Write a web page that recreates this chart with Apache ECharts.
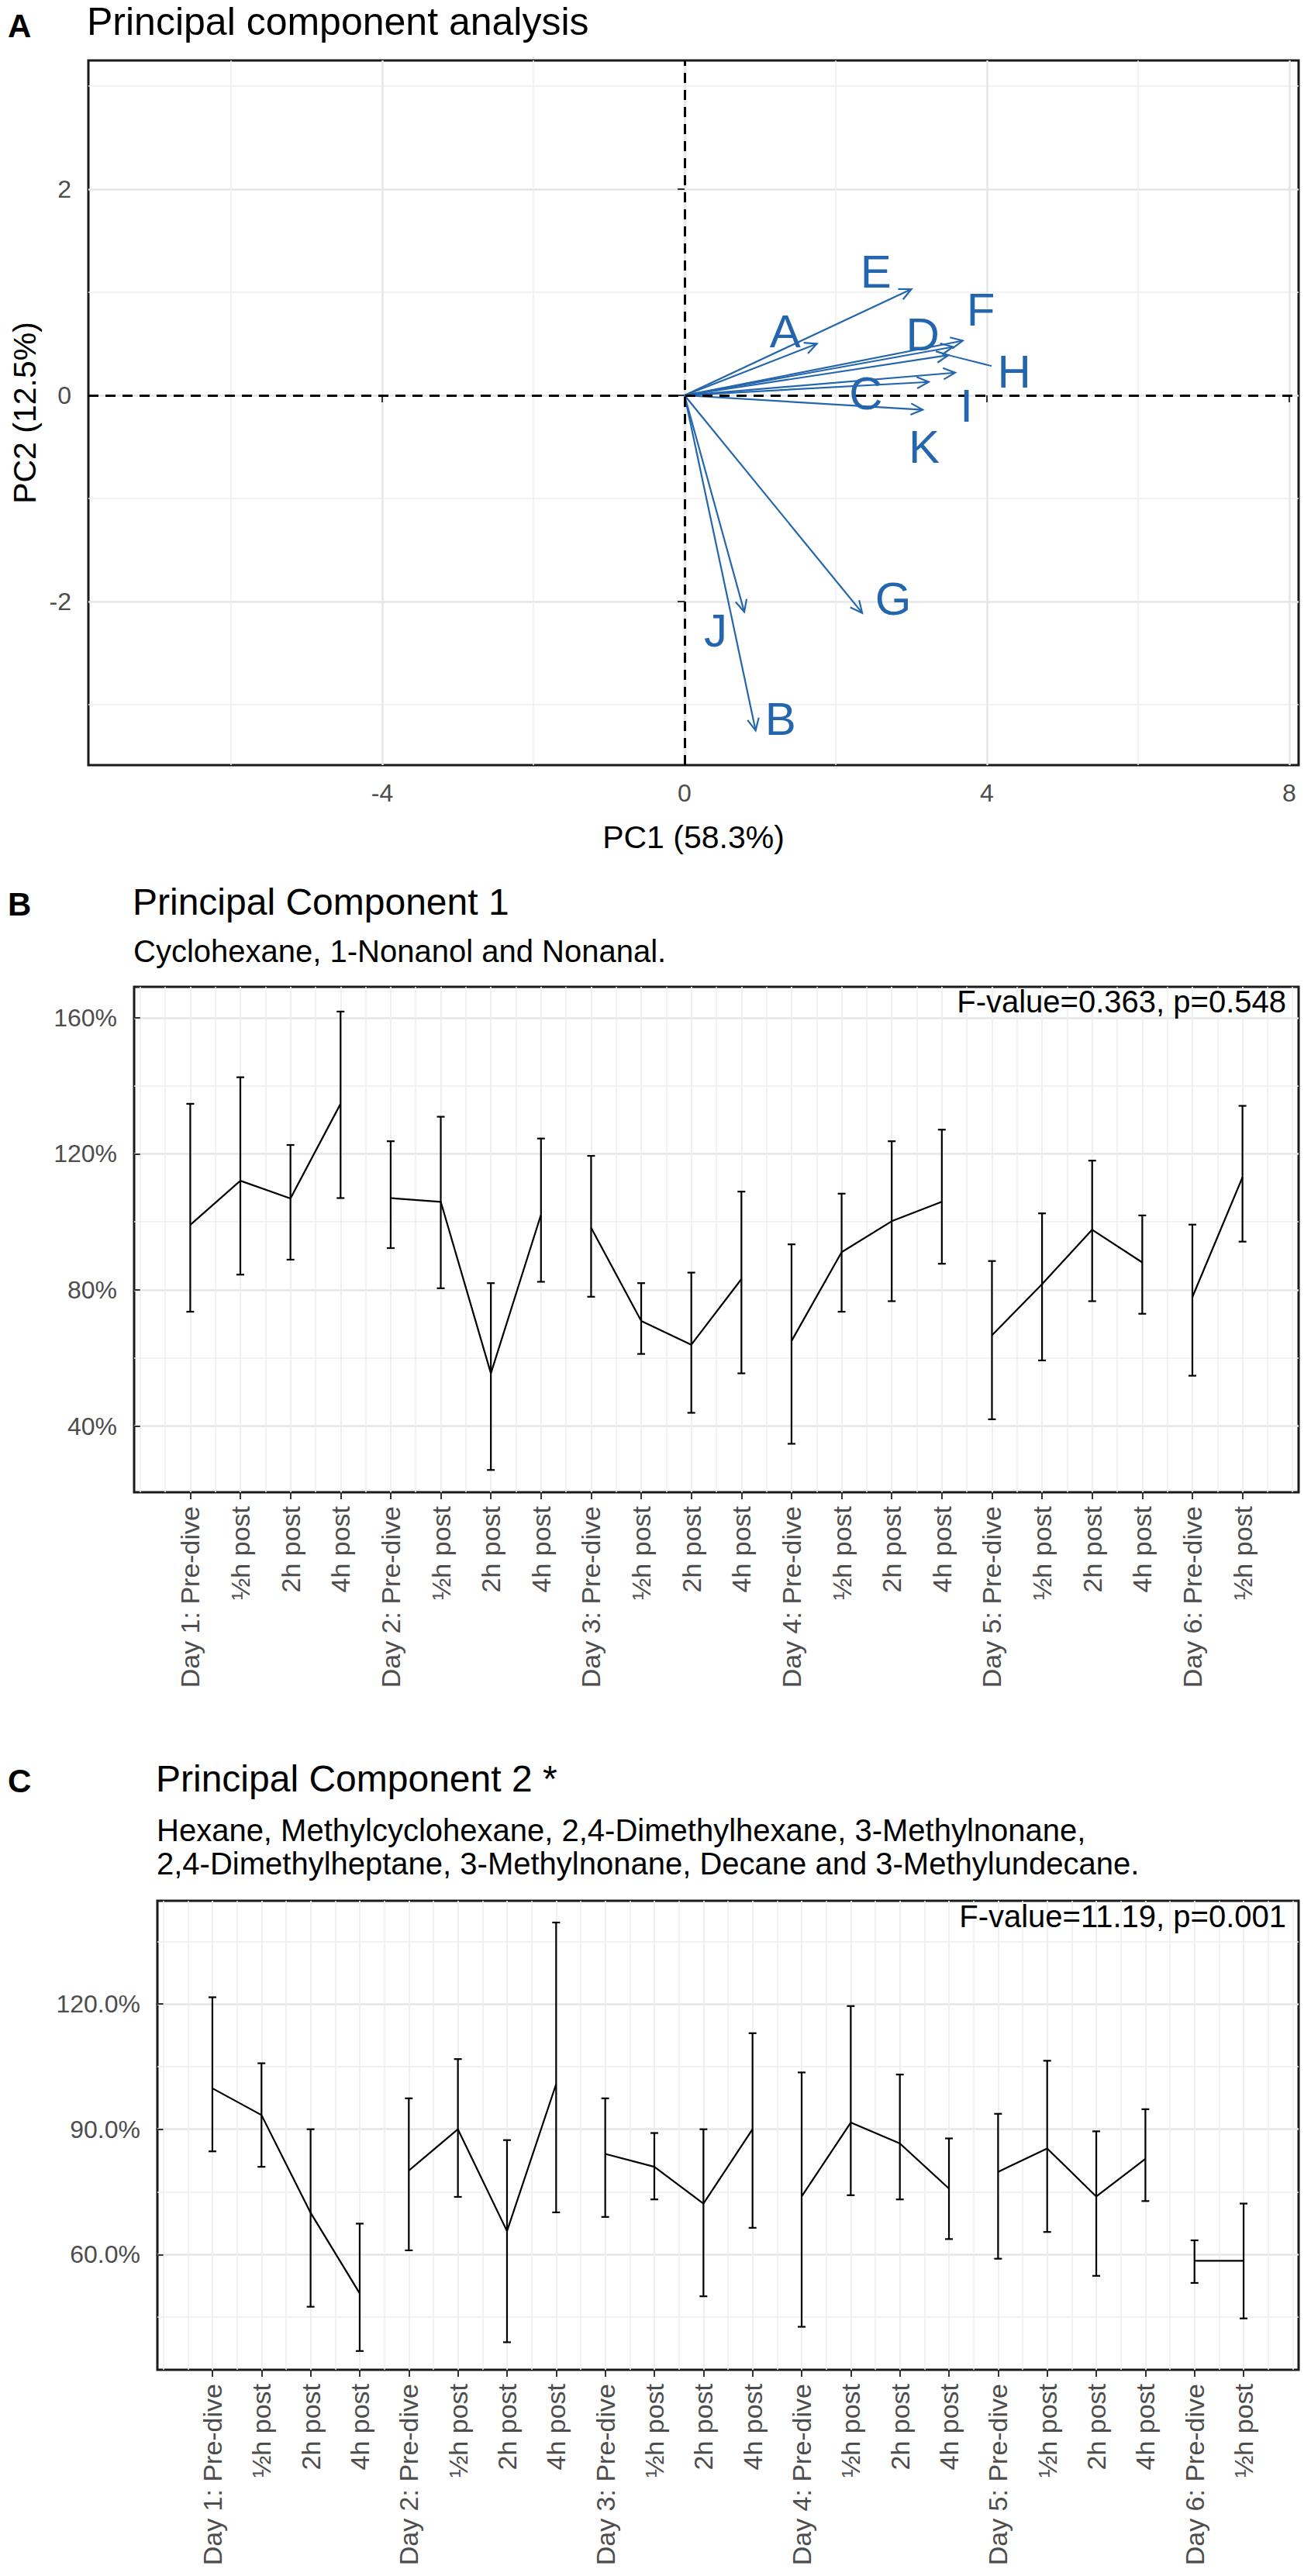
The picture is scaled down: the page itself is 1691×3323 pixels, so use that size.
<!DOCTYPE html>
<html><head><meta charset="utf-8">
<script src="https://cdn.jsdelivr.net/npm/echarts@6/dist/echarts.min.js"></script>
<style>html,body{margin:0;padding:0;background:#fff}#c{width:1691px;height:3323px}</style>
</head><body><div id="c"></div><script>
// ---------- Panel A: PCA loadings ----------
const varNames = ['A','B','C','D','E','F','G','H','I','J','K'];
const loadPC1  = [1.75, 0.94, 3.23, 3.55, 3.00, 3.68, 2.35, 3.49, 3.58, 0.79, 3.15];
const loadPC2  = [0.50, -3.25, 0.13, 0.47, 1.03, 0.53, -2.11, 0.39, 0.22, -2.10, -0.14];
const labelPC1 = [1.33, 1.27, 2.40, 3.15, 2.53, 3.92, 2.76, 4.36, 3.73, 0.41, 3.17];
const labelPC2 = [0.62, -3.14, 0.02, 0.59, 1.20, 0.83, -1.97, 0.23, -0.10, -2.28, -0.50];
const labelLinked = [0,0,0,0,0,0,0,1,0,0,0];
const pcaXTicks = [-4, 0, 4, 8];
const pcaYTicks = [-2, 0, 2];

// ---------- Panels B, C: time points ----------
const timePoints = ['Day 1: Pre-dive','½h post','2h post','4h post',
  'Day 2: Pre-dive','½h post','2h post','4h post',
  'Day 3: Pre-dive','½h post','2h post','4h post',
  'Day 4: Pre-dive','½h post','2h post','4h post',
  'Day 5: Pre-dive','½h post','2h post','4h post',
  'Day 6: Pre-dive','½h post'];
const dayOf = [1,1,1,1,2,2,2,2,3,3,3,3,4,4,4,4,5,5,5,5,6,6];

const pc1Mean  = [99.1,112.1,106.9,134.7,107.0,105.9,55.5,102.1,98.3,70.9,63.9,83.2,65.0,91.1,100.2,105.9,66.7,81.7,97.7,88.1,77.9,113.1];
const pc1Upper = [134.7,142.5,122.6,161.8,123.7,130.9,82.0,124.5,119.4,82.0,85.1,108.9,93.4,108.3,123.7,127.1,88.5,102.5,118.0,101.9,99.2,134.1];
const pc1Lower = [73.6,84.5,88.9,107.0,92.3,80.5,27.1,82.4,78.0,61.2,43.9,55.5,34.8,73.6,76.7,87.7,42.0,59.3,76.7,73.0,54.8,94.2];
const pc1YTicks = [40, 80, 120, 160];

const pc2Mean  = [99.8,93.4,70.0,50.7,80.1,90.0,65.6,100.8,84.1,81.0,72.2,90.0,73.9,91.6,86.6,75.8,79.8,85.4,73.9,82.9,58.5,58.5];
const pc2Upper = [121.6,105.8,90.0,67.4,97.4,106.8,87.4,139.5,97.4,89.1,90.0,113.0,103.6,119.5,103.1,87.8,93.7,106.4,89.5,94.8,63.4,72.2];
const pc2Lower = [84.7,81.0,47.5,36.9,61.0,73.8,39.0,70.1,69.0,73.2,50.0,66.4,42.7,74.2,73.2,63.7,59.0,65.4,54.9,72.8,53.2,44.7];
const pc2YTicks = [60, 90, 120];

// ---------- styling ----------
const FONT = 'Liberation Sans, Arial, sans-serif';
const BLUE = '#2466ad';
const GRID_MAJOR = '#e6e6e6';
const GRID_MINOR = '#eeeeee';
const TICK_COL = '#333333';
const LABEL_COL = '#4d4d4d';

const xPositions = timePoints.map((_, i) => i + 1);
const halfPositions = [0]; for (let i = 0; i < 23; i++) halfPositions.push(i + 0.5); halfPositions.push(23);

function majorAxis(gridIndex, min, max, ticks, fmt, extra) {
  return Object.assign({
    gridIndex, type: 'value', min, max,
    axisLine: {show: false},
    axisTick: {show: true, customValues: ticks, length: 9, lineStyle: {color: TICK_COL, width: 2}},
    axisLabel: {show: true, customValues: ticks, formatter: fmt, color: LABEL_COL, fontSize: 32, fontFamily: FONT},
    splitLine: {show: true, customValues: ticks, lineStyle: {color: GRID_MAJOR, width: 2.5}}
  }, extra || {});
}
function minorAxis(gridIndex, min, max, ticks) {
  return {
    gridIndex, type: 'value', min, max,
    axisLine: {show: false},
    axisTick: {show: false, customValues: ticks},
    axisLabel: {show: false, customValues: ticks},
    splitLine: {show: true, customValues: ticks, lineStyle: {color: GRID_MINOR, width: 1.5}}
  };
}

const A_X = [-7.887, 8.123], A_Y = [-3.586, 3.248];
const B_X = [-0.12, 23.12], B_Y = [20.55, 169.07];
const C_X = [-0.12, 23.12], C_Y = [32.4, 144.7];

const xAxes = [
  majorAxis(0, A_X[0], A_X[1], pcaXTicks, v => String(v), {
    name: 'PC1 (58.3%)', nameLocation: 'middle', nameGap: 72,
    nameTextStyle: {fontSize: 41, color: '#000', fontFamily: FONT},
    axisLabel: {show: true, customValues: pcaXTicks, formatter: v => String(v), color: LABEL_COL, fontSize: 32, fontFamily: FONT, margin: 20}
  }),
  minorAxis(0, A_X[0], A_X[1], [-6, -2, 2, 6]),
  majorAxis(1, B_X[0], B_X[1], xPositions, v => timePoints[Math.round(v) - 1] || '', {
    axisLabel: {show: true, customValues: xPositions, formatter: v => timePoints[Math.round(v) - 1] || '', rotate: 90, color: LABEL_COL, fontSize: 34, fontFamily: FONT, margin: 18},
    splitLine: {show: true, customValues: xPositions, lineStyle: {color: GRID_MINOR, width: 1.8}}
  }),
  minorAxis(1, B_X[0], B_X[1], halfPositions),
  majorAxis(2, C_X[0], C_X[1], xPositions, v => timePoints[Math.round(v) - 1] || '', {
    axisLabel: {show: true, customValues: xPositions, formatter: v => timePoints[Math.round(v) - 1] || '', rotate: 90, color: LABEL_COL, fontSize: 34, fontFamily: FONT, margin: 18},
    splitLine: {show: true, customValues: xPositions, lineStyle: {color: GRID_MINOR, width: 1.8}}
  }),
  minorAxis(2, C_X[0], C_X[1], halfPositions)
];
const yAxes = [
  majorAxis(0, A_Y[0], A_Y[1], pcaYTicks, v => String(v), {
    name: 'PC2 (12.5%)', nameLocation: 'middle', nameGap: 60,
    nameTextStyle: {fontSize: 41, color: '#000', fontFamily: FONT},
    axisLabel: {show: true, customValues: pcaYTicks, formatter: v => String(v), color: LABEL_COL, fontSize: 32, fontFamily: FONT, margin: 22}
  }),
  minorAxis(0, A_Y[0], A_Y[1], [-3, -1, 1, 3]),
  majorAxis(1, B_Y[0], B_Y[1], pc1YTicks, v => v + '%', {
    axisLabel: {show: true, customValues: pc1YTicks, formatter: v => v + '%', color: LABEL_COL, fontSize: 32, fontFamily: FONT, margin: 22}
  }),
  minorAxis(1, B_Y[0], B_Y[1], [60, 100, 140]),
  majorAxis(2, C_Y[0], C_Y[1], pc2YTicks, v => v.toFixed(1) + '%', {
    axisLabel: {show: true, customValues: pc2YTicks, formatter: v => v.toFixed(1) + '%', color: LABEL_COL, fontSize: 32, fontFamily: FONT, margin: 22}
  }),
  minorAxis(2, C_Y[0], C_Y[1], [45, 75, 105, 135])
];

const gridBase = {show: true, borderColor: '#1a1a1a', borderWidth: 3, backgroundColor: '#fff', containLabel: false, outerBoundsMode: 'none'};
const grids = [
  Object.assign({left: 114, top: 78, width: 1561, height: 909}, gridBase),
  Object.assign({left: 173, top: 1273, width: 1502, height: 652}, gridBase),
  Object.assign({left: 203, top: 2452, width: 1472, height: 605}, gridBase)
];

// ---------- renderers ----------
function arrowRender(params, api) {
  const i = params.dataIndex;
  const o = api.coord([0, 0]);
  const t = api.coord([api.value(0), api.value(1)]);
  const ang = Math.atan2(t[1] - o[1], t[0] - o[0]);
  const L = 17, a = Math.PI / 7;
  const h1 = [t[0] - L * Math.cos(ang - a), t[1] - L * Math.sin(ang - a)];
  const h2 = [t[0] - L * Math.cos(ang + a), t[1] - L * Math.sin(ang + a)];
  const st = {stroke: BLUE, lineWidth: 2.2, fill: null};
  const children = [
    {type: 'line', shape: {x1: o[0], y1: o[1], x2: t[0], y2: t[1]}, style: st},
    {type: 'polyline', shape: {points: [h1, t, h2]}, style: st}
  ];
  if (labelLinked[i]) {
    const l = api.coord([labelPC1[i], labelPC2[i]]);
    const dx = l[0] - t[0], dy = l[1] - t[1];
    const d = Math.sqrt(dx * dx + dy * dy);
    const k = (d - 30) / d;
    children.push({type: 'line', shape: {x1: t[0], y1: t[1], x2: t[0] + dx * k, y2: t[1] + dy * k}, style: {stroke: BLUE, lineWidth: 2}});
  }
  return {type: 'group', children};
}
function labelRender(params, api) {
  const p = api.coord([api.value(0), api.value(1)]);
  return {type: 'text', x: p[0], y: p[1],
    style: {text: varNames[params.dataIndex], fill: BLUE, fontSize: 60, fontFamily: FONT, align: 'center', verticalAlign: 'middle'}};
}
function errRender(params, api) {
  const x = api.value(0), lo = api.value(1), hi = api.value(2);
  const pLo = api.coord([x, lo]), pHi = api.coord([x, hi]);
  const w = 5;
  const st = {stroke: '#000', lineWidth: 2.2};
  return {type: 'group', children: [
    {type: 'line', shape: {x1: pLo[0], y1: pLo[1], x2: pHi[0], y2: pHi[1]}, style: st},
    {type: 'line', shape: {x1: pHi[0] - w, y1: pHi[1], x2: pHi[0] + w, y2: pHi[1]}, style: st},
    {type: 'line', shape: {x1: pLo[0] - w, y1: pLo[1], x2: pLo[0] + w, y2: pLo[1]}, style: st}
  ]};
}

const series = [];
// dashed zero lines
series.push({
  type: 'line', xAxisIndex: 0, yAxisIndex: 0, silent: true, data: [],
  markLine: {silent: true, symbol: 'none', label: {show: false},
    lineStyle: {color: '#000', type: [13, 9], width: 3},
    data: [{xAxis: 0}, {yAxis: 0}]},
  z: 2
});
series.push({
  type: 'custom', xAxisIndex: 0, yAxisIndex: 0, silent: true,
  renderItem: arrowRender,
  encode: {x: 0, y: 1},
  data: varNames.map((n, i) => [loadPC1[i], loadPC2[i]]),
  z: 4
});
series.push({
  type: 'custom', xAxisIndex: 0, yAxisIndex: 0, silent: true,
  renderItem: labelRender,
  encode: {x: 0, y: 1},
  data: varNames.map((n, i) => [labelPC1[i], labelPC2[i]]),
  z: 5
});

function addTimePanel(axisIdx, mean, upper, lower) {
  const days = [...new Set(dayOf)];
  days.forEach(d => {
    const pts = [];
    xPositions.forEach((x, i) => { if (dayOf[i] === d) pts.push([x, mean[i]]); });
    series.push({type: 'line', xAxisIndex: axisIdx, yAxisIndex: axisIdx, data: pts,
      symbol: 'none', silent: true, lineStyle: {color: '#000', width: 2.2}, z: 3});
  });
  series.push({type: 'custom', xAxisIndex: axisIdx, yAxisIndex: axisIdx, silent: true,
    renderItem: errRender, encode: {x: 0, y: [1, 2]},
    data: xPositions.map((x, i) => [x, lower[i], upper[i]]), z: 4});
}
addTimePanel(2, pc1Mean, pc1Upper, pc1Lower);
addTimePanel(4, pc2Mean, pc2Upper, pc2Lower);

const ts = (size, bold) => ({fontSize: size, fontWeight: bold ? 'bold' : 'normal', color: '#000', fontFamily: FONT});
const titles = [
  {text: 'A', left: 10, top: 12, padding: 0, textStyle: ts(42, true)},
  {text: 'Principal component analysis', left: 112, top: 3, padding: 0, textStyle: ts(50)},
  {text: 'B', left: 10, top: 1145, padding: 0, textStyle: ts(42, true)},
  {text: 'Principal Component 1', left: 171, top: 1139, padding: 0, textStyle: ts(48)},
  {text: 'Cyclohexane, 1-Nonanol and Nonanal.', left: 172, top: 1207, padding: 0, textStyle: ts(40)},
  {text: 'F-value=0.363, p=0.548', right: 32, top: 1272, padding: 0, textStyle: ts(40)},
  {text: 'C', left: 10, top: 2276, padding: 0, textStyle: ts(42, true)},
  {text: 'Principal Component 2 *', left: 201, top: 2270, padding: 0, textStyle: ts(48)},
  {text: 'Hexane, Methylcyclohexane, 2,4-Dimethylhexane, 3-Methylnonane,\n2,4-Dimethylheptane, 3-Methylnonane, Decane and 3-Methylundecane.', left: 202, top: 2339, padding: 0,
    textStyle: Object.assign(ts(40), {lineHeight: 43})},
  {text: 'F-value=11.19, p=0.001', right: 32, top: 2452, padding: 0, textStyle: ts(40)}
];

const chart = echarts.init(document.getElementById('c'), null, {renderer: 'svg'});
chart.setOption({
  animation: false,
  backgroundColor: '#fff',
  textStyle: {fontFamily: FONT},
  title: titles,
  grid: grids,
  xAxis: xAxes,
  yAxis: yAxes,
  series
});
</script></body></html>
